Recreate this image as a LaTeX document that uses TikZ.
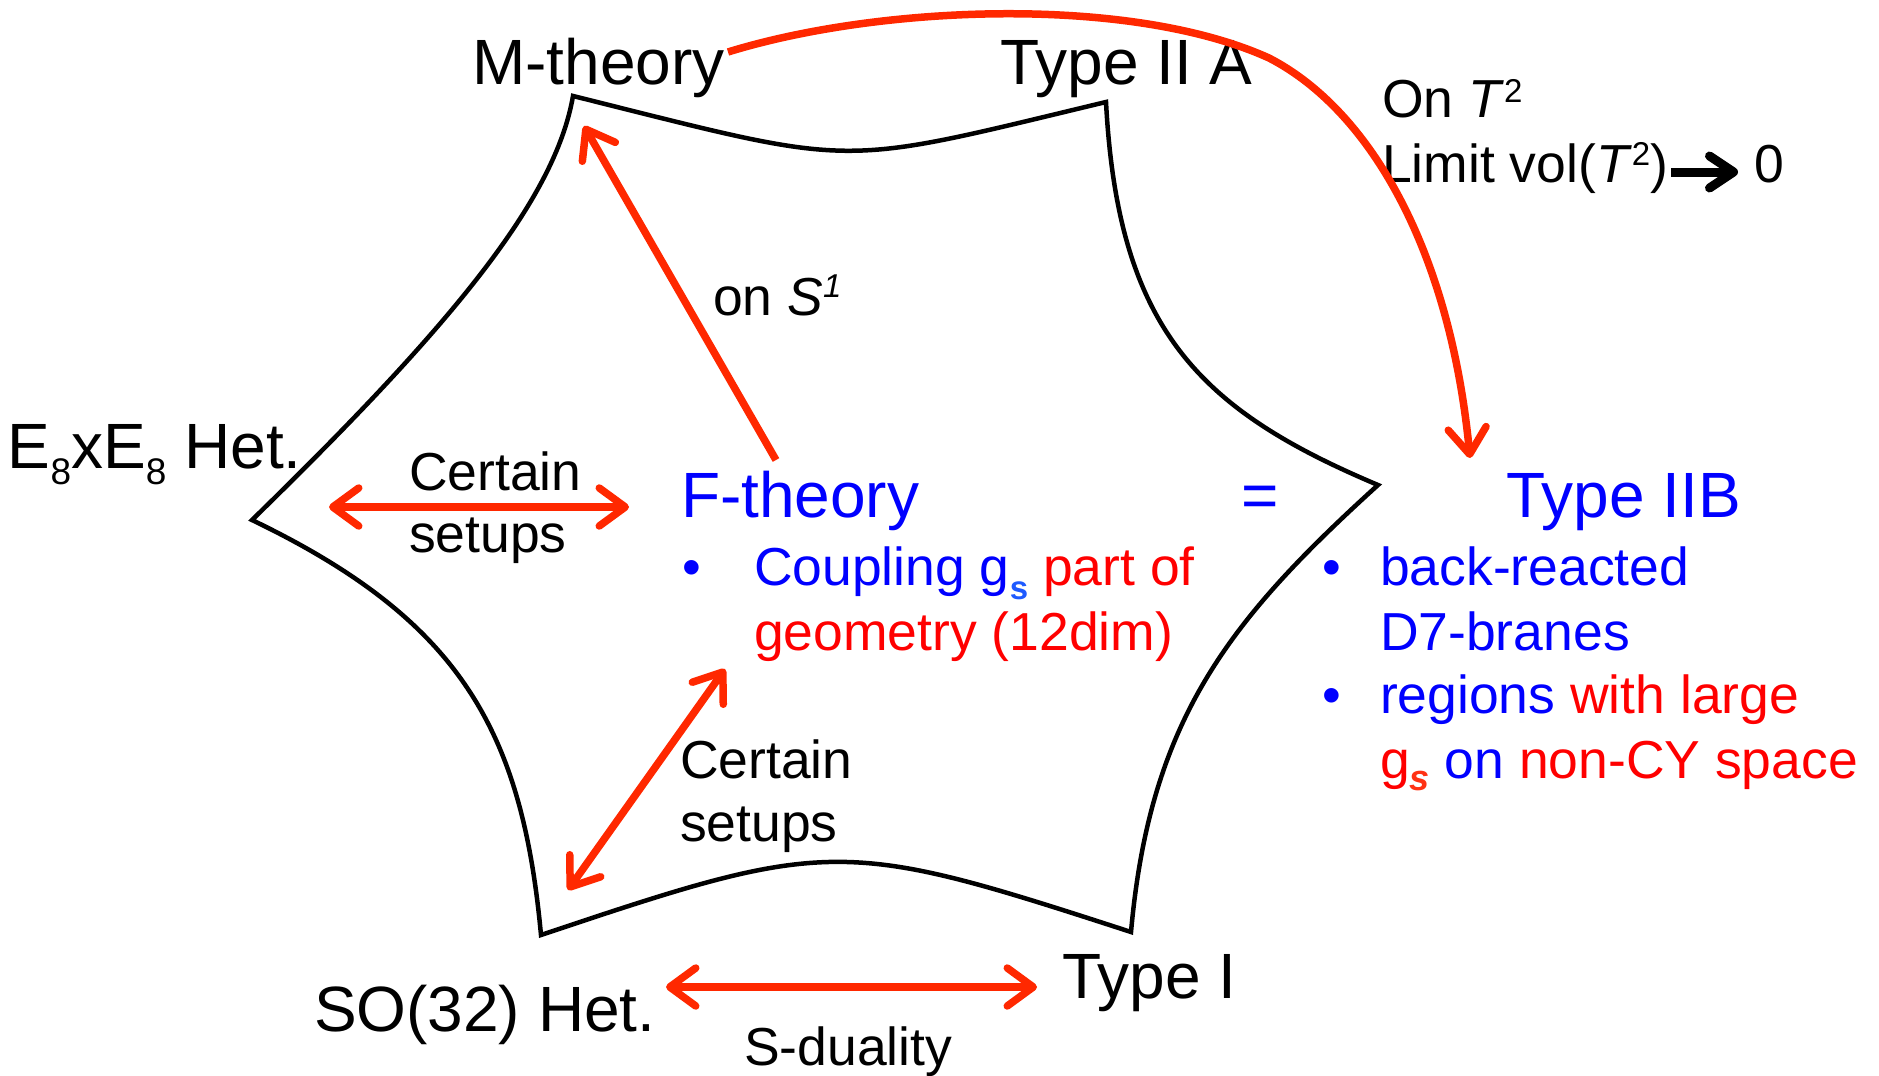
\documentclass[tikz,border=0pt]{standalone}
\usepackage{fontspec}
\setmainfont{Liberation Sans}
\usetikzlibrary{arrows.meta}
\definecolor{arrred}{RGB}{255,40,0}
\definecolor{txtblue}{RGB}{0,0,255}
\definecolor{txtred}{RGB}{255,0,0}
\definecolor{subblue}{RGB}{30,90,255}
\definecolor{subred}{RGB}{255,50,20}
\newcommand\mysup[2]{\raisebox{#1}{\fontsize{33}{33}\selectfont #2}}
\newcommand\mysub[2]{\raisebox{#1}{\fontsize{30}{30}\selectfont #2}}
\tikzset{
  lbl/.style={inner sep=0pt, outer sep=0pt, anchor=base west},
  txtbig/.style={lbl, font=\fontsize{64}{64}\selectfont},
  txtmed/.style={lbl, font=\fontsize{53.5}{53.5}\selectfont},
  hexline/.style={line width=4.5pt, line join=miter, draw=black},
  redtip/.tip={Straight Barb[length=26pt,width=38pt,line cap=round,line join=round]},
  blacktip/.tip={Straight Barb[length=24pt,width=32pt,line cap=round,line join=round]},
  redarr/.style={draw=arrred, line width=7.5pt, -redtip},
  dblarr/.style={draw=arrred, line width=7.5pt, redtip-redtip},
}
\begin{document}
\begin{tikzpicture}[x=1pt,y=-1pt]
\useasboundingbox (0,0) rectangle (1879,1076);
% hexagon vertices
\coordinate (vM) at (573,96);
\coordinate (vA) at (1106,102);
\coordinate (vR) at (1378,485);
\coordinate (vI) at (1131,932);
\coordinate (vS) at (541,935);
\coordinate (vL) at (252,520);
\draw[hexline] (vM) .. controls (862,168) and (831,168) .. (vA)
  .. controls (1118,330) and (1200,410) .. (vR)
  .. controls (1228,621) and (1150,720) .. (vI)
  .. controls (842,838) and (830,838) .. (vS)
  .. controls (522,730) and (460,620) .. (vL)
  .. controls (452,325) and (555,200) .. cycle;

% labels
\node[txtbig] (mth) at (472,84) {M-theory};
\node[txtbig] (t2a) at (1000,84) {Type II A};
\node[txtmed] (ont) at (1382,117) {On \textit{T}\mysup{15pt}{2}};
\node[txtmed] (lim) at (1382,182) {Limit vol(\textit{T}\mysup{17pt}{2})};
\node[txtmed] (zero) at (1754,182) {0};
\node[txtbig] (e8) at (8,468) {E\mysub{-16pt}{\fontsize{37}{37}\selectfont 8}xE\mysub{-16pt}{\fontsize{37}{37}\selectfont 8} Het.};
\node[txtmed] (cert1a) at (409,490) {Certain};
\node[txtmed] (cert1b) at (409,552) {setups};
\node[txtbig, text=txtblue] (fth) at (681,517) {F-theory};
\node[txtbig, text=txtblue, anchor=base] (eq) at (1260,517) {=};
\node[txtbig, text=txtblue] (t2b) at (1506,517) {Type IIB};
\node[txtmed] (ons) at (713,315) {on \textit{S}\mysup{18pt}{\itshape 1}};
% F-theory bullet
\node[txtmed, text=txtblue, anchor=base] (fb1) at (692,585) {•};
\node[txtmed] (fl1) at (754,585) {\textcolor{txtblue}{Coupling g\mysub{-14pt}{\fontsize{33}{33}\selectfont\bfseries\textcolor{subblue}{s}}} \textcolor{txtred}{part of}};
\node[txtmed, text=txtred] (fl2) at (754,650) {geometry (12dim)};
% Type IIB bullets
\node[txtmed, text=txtblue, anchor=base] (tb1) at (1332,585) {•};
\node[txtmed, text=txtblue] (tl1) at (1380,585) {back-reacted};
\node[txtmed, text=txtblue] (tl2) at (1380,650) {D7-branes};
\node[txtmed, text=txtblue, anchor=base] (tb2) at (1332,713) {•};
\node[txtmed] (tl3) at (1380,713) {\textcolor{txtblue}{regions} \textcolor{txtred}{with large}};
\node[txtmed] (tl4) at (1380,778) {\textcolor{txtred}{g\mysub{-12pt}{\fontsize{36}{36}\selectfont\bfseries\itshape\textcolor{subred}{s}}} \textcolor{txtblue}{on} \textcolor{txtred}{non-CY space}};
% lower labels
\node[txtmed] (cert2a) at (680,778) {Certain};
\node[txtmed] (cert2b) at (680,841) {setups};
\node[txtbig] (so32) at (314,1031) {SO(32) Het.};
\node[txtbig] (t1) at (1062,998) {Type I};
\node[txtmed] (sdual) at (744,1065) {S-duality};

% arrow end points
\coordinate (aL1) at (329,507);
\coordinate (aL2) at (629,507);
\coordinate (aMtail) at (776,460);
\coordinate (aMtip) at (584,126);
\coordinate (aC1) at (725,669);
\coordinate (aC2) at (568,890);
\coordinate (aB1) at (666,987);
\coordinate (aB2) at (1037,987);
\coordinate (cS) at (728,52);
\coordinate (cMid) at (1269,58);
\coordinate (cE) at (1470,458);
\coordinate (kS) at (1671,172);
\coordinate (kE) at (1738,172);

\draw[dblarr] (aL1) -- (aL2);
\draw[redarr] (aMtail) -- (aMtip);
\draw[dblarr] (aC1) -- (aC2);
\draw[dblarr] (aB1) -- (aB2);
\draw[redarr] (cS) .. controls (880,5) and (1130,-5) .. (cMid)
   .. controls (1370,110) and (1450,250) .. (cE);
\draw[line width=9pt, -blacktip] (kS) -- (kE);
\end{tikzpicture}
\end{document}
